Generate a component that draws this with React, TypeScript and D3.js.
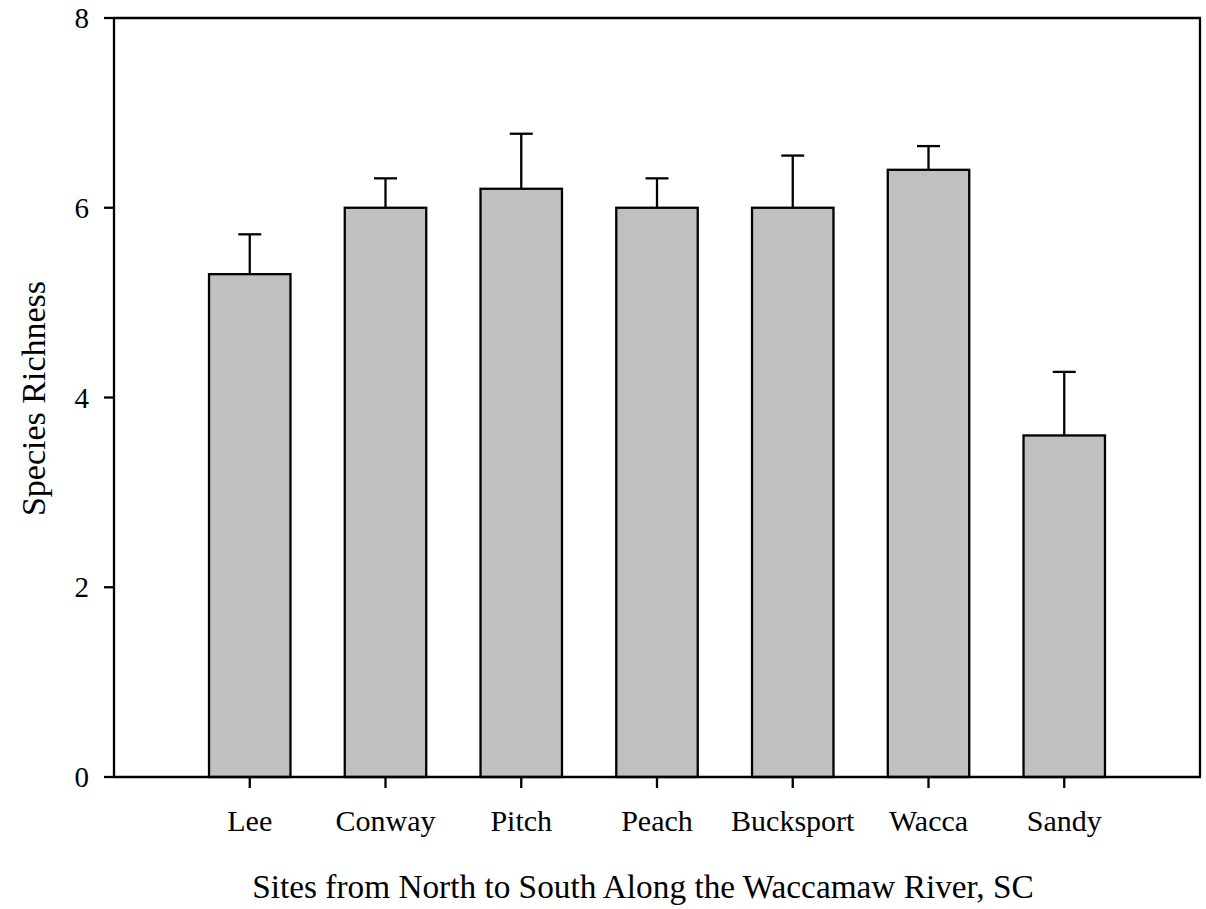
import React from "react";
import * as d3 from "d3";

const sites = ["Lee", "Conway", "Pitch", "Peach", "Bucksport", "Wacca", "Sandy"];
const richness = [5.3, 6.0, 6.2, 6.0, 6.0, 6.4, 3.6];
const stdErr = [0.42, 0.31, 0.58, 0.31, 0.55, 0.25, 0.67];
const yTicks = [0, 2, 4, 6, 8];

const W = 1206;
const H = 909;
const left = 114;
const right = 1200;
const top = 18;
const bottom = 777;
const font = "'Liberation Serif', 'Times New Roman', serif";

export default function App() {
  const x = d3.scalePoint<string>().domain(sites).range([left, right]).padding(1);
  const y = d3.scaleLinear().domain([0, 8]).range([bottom, top]);
  const step = x.step();
  const bw = step * 0.6;
  const capW = 23;
  const sw = 2.3;

  return (
    <svg
      width={W}
      height={H}
      style={{ position: "absolute", left: 0, top: 0, background: "#fff" }}
    >
      <rect x={0} y={0} width={W} height={H} fill="#fff" />
      {sites.map((s, i) => {
        const cx = x(s)!;
        const vTop = y(richness[i]);
        const eTop = y(richness[i] + stdErr[i]);
        return (
          <g key={s}>
            <line x1={cx} x2={cx} y1={vTop} y2={eTop} stroke="#000" strokeWidth={sw} />
            <line x1={cx - capW / 2} x2={cx + capW / 2} y1={eTop} y2={eTop} stroke="#000" strokeWidth={sw} />
            <rect
              x={cx - bw / 2}
              y={vTop}
              width={bw}
              height={y(0) - vTop}
              fill="#c0c0c0"
              stroke="#000"
              strokeWidth={sw}
            />
          </g>
        );
      })}
      {/* frame */}
      <line x1={left} x2={left} y1={top} y2={bottom} stroke="#000" strokeWidth={sw} />
      <line x1={right} x2={right} y1={top} y2={bottom} stroke="#000" strokeWidth={sw} />
      <line x1={left} x2={right + 1} y1={top} y2={top} stroke="#000" strokeWidth={sw} />
      <line x1={left} x2={right + 1} y1={bottom} y2={bottom} stroke="#000" strokeWidth={sw} />
      {/* y ticks */}
      {yTicks.map((t) => (
        <g key={t}>
          <line x1={left - 10} x2={left} y1={y(t)} y2={y(t)} stroke="#000" strokeWidth={sw} />
          <text
            x={89}
            y={y(t)}
            textAnchor="end"
            dominantBaseline="central"
            fontFamily={font}
            fontSize={29}
            fill="#000"
          >
            {t}
          </text>
        </g>
      ))}
      {/* x ticks */}
      {sites.map((s) => (
        <g key={s}>
          <line x1={x(s)!} x2={x(s)!} y1={bottom} y2={bottom + 11} stroke="#000" strokeWidth={sw} />
          <text
            x={x(s)!}
            y={831}
            textAnchor="middle"
            fontFamily={font}
            fontSize={30}
            fill="#000"
          >
            {s}
          </text>
        </g>
      ))}
      <text
        x={(253 + 1033) / 2}
        y={898}
        textAnchor="middle"
        fontFamily={font}
        fontSize={33.3}
        fill="#000"
      >
        Sites from North to South Along the Waccamaw River, SC
      </text>
      <text
        transform={`translate(45, ${(282 + 515) / 2}) rotate(-90)`}
        textAnchor="middle"
        fontFamily={font}
        fontSize={34}
        fill="#000"
      >
        Species Richness
      </text>
    </svg>
  );
}
